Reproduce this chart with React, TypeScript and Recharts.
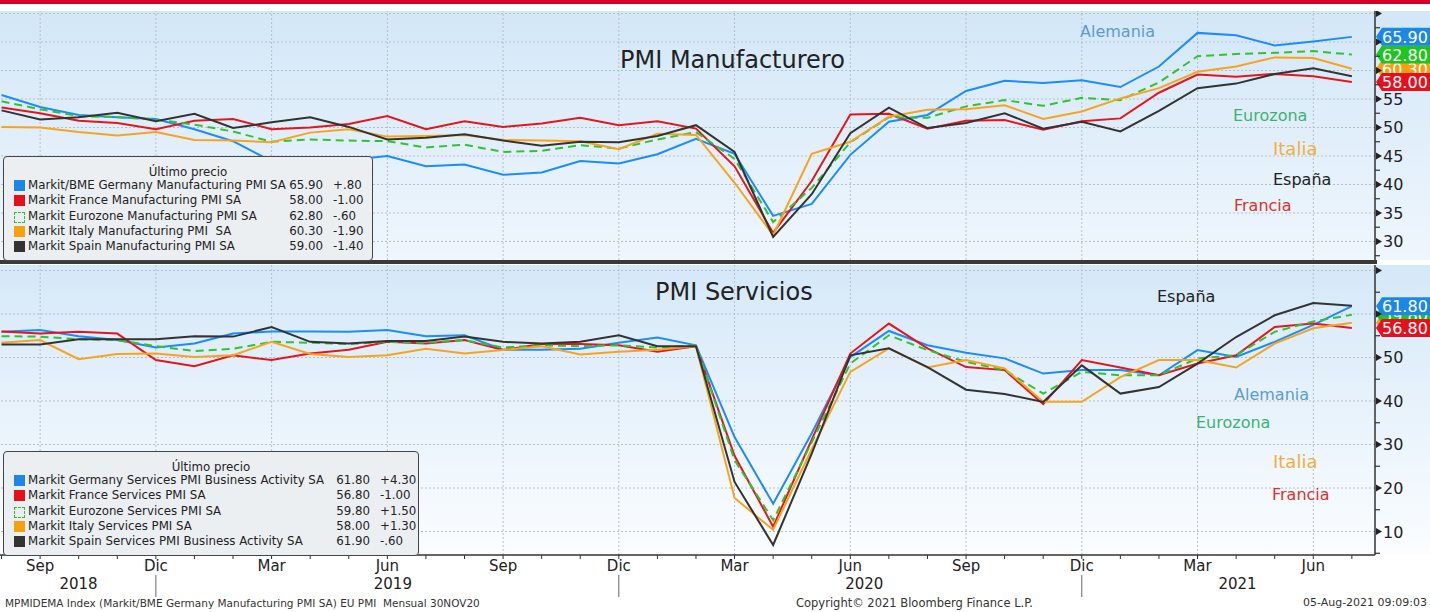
import React from 'react';
import { LineChart, Line, XAxis, YAxis, ReferenceLine, ReferenceDot } from 'recharts';

const months = ['Ago-18','Sep-18','Oct-18','Nov-18','Dic-18','Ene-19','Feb-19','Mar-19','Abr-19','May-19','Jun-19','Jul-19','Ago-19','Sep-19','Oct-19','Nov-19','Dic-19','Ene-20','Feb-20','Mar-20','Abr-20','May-20','Jun-20','Jul-20','Ago-20','Sep-20','Oct-20','Nov-20','Dic-20','Ene-21','Feb-21','Mar-21','Abr-21','May-21','Jun-21','Jul-21'];

const quarterTicks = [1, 4, 7, 10, 13, 16, 19, 22, 25, 28, 31, 34];
const quarterLabels = ['Sep', 'Dic', 'Mar', 'Jun', 'Sep', 'Dic', 'Mar', 'Jun', 'Sep', 'Dic', 'Mar', 'Jun'];
const yearTicks = [2, 10, 22, 31.5];
const yearLabels = ['2018', '2019', '2020', '2021'];

// Manufacturing PMI
const mfgDE = [55.7,53.6,52.2,51.8,51.5,49.7,47.6,44.1,44.4,44.3,45.0,43.2,43.5,41.7,42.1,44.1,43.7,45.3,48.0,45.4,34.5,36.6,45.2,51.0,52.2,56.4,58.2,57.8,58.3,57.1,60.7,66.6,66.2,64.4,65.1,65.9];
const mfgFR = [53.5,52.5,51.2,50.8,49.7,51.2,51.5,49.7,50.0,50.6,52.0,49.7,51.1,50.1,50.7,51.7,50.4,51.1,49.8,43.2,31.5,40.6,52.3,52.4,49.8,51.2,51.3,49.6,51.1,51.6,56.1,59.3,58.9,59.4,59.0,58.0];
const mfgEZ = [54.6,53.2,52.0,51.8,51.4,50.5,49.3,47.5,47.9,47.7,47.6,46.5,47.0,45.7,45.9,46.9,46.3,47.9,49.2,44.5,33.4,39.4,47.4,51.8,51.7,53.7,54.8,53.8,55.2,54.8,57.9,62.5,62.9,63.1,63.4,62.8];
const mfgIT = [50.1,50.0,49.2,48.6,49.2,47.8,47.7,47.4,49.1,49.7,48.4,48.5,48.7,47.8,47.7,47.6,46.2,48.9,48.7,40.3,31.1,45.4,47.5,51.9,53.1,53.2,53.9,51.5,52.8,55.1,56.9,59.8,60.7,62.3,62.2,60.3];
const mfgES = [53.0,51.4,51.8,52.6,51.1,52.4,49.9,50.9,51.8,50.1,47.9,48.2,48.8,47.7,46.8,47.5,47.4,48.5,50.4,45.7,30.8,38.3,49.0,53.5,49.9,50.8,52.5,49.8,51.0,49.3,52.9,56.9,57.7,59.4,60.4,59.0];

// Services PMI
const srvDE = [55.9,56.3,54.9,54.0,52.3,53.2,55.5,56.0,56.0,55.9,56.3,54.9,55.1,51.8,51.8,52.0,53.4,54.6,52.8,31.7,16.4,32.6,50.1,56.1,52.8,51.1,49.8,46.3,47.1,47.1,45.9,51.7,50.1,53.6,57.5,61.8];
const srvFR = [56.0,55.5,55.9,55.5,49.4,48.0,50.5,49.4,50.9,51.8,53.6,53.2,54.0,51.7,53.1,53.1,52.8,51.3,52.6,27.4,11.1,31.1,50.9,57.8,52.1,47.8,47.1,39.3,49.4,47.7,45.9,48.6,50.5,57.0,57.8,56.8];
const srvEZ = [54.9,54.8,54.2,54.0,52.6,51.5,52.0,53.6,53.4,53.1,53.6,53.4,54.0,52.3,52.8,52.6,52.8,52.3,52.8,26.4,12.6,30.5,48.6,55.1,51.7,49.0,47.1,41.7,46.7,45.9,45.9,49.8,50.5,55.9,58.3,59.8];
const srvIT = [53.4,54.0,49.6,50.8,50.9,50.1,50.5,53.6,50.8,50.1,50.5,52.0,50.9,51.7,52.6,50.7,51.3,51.8,52.6,17.7,10.4,28.9,46.7,52.1,47.7,49.4,47.5,39.8,39.8,45.5,49.4,49.4,47.7,53.2,56.7,58.0];
const srvES = [53.0,53.0,54.2,54.2,54.2,54.9,54.8,57.0,53.6,53.2,53.8,53.8,54.8,53.6,53.2,53.6,55.1,52.6,52.6,21.4,6.9,27.9,50.5,52.1,47.8,42.6,41.6,39.8,48.2,41.7,43.2,48.6,54.7,59.7,62.5,61.9];

// Legends
const mfgNames = ['Markit/BME Germany Manufacturing PMI SA', 'Markit France Manufacturing PMI SA', 'Markit Eurozone Manufacturing PMI SA', 'Markit Italy Manufacturing PMI  SA', 'Markit Spain Manufacturing PMI SA'];
const mfgLast = ['65.90', '58.00', '62.80', '60.30', '59.00'];
const mfgChange = ['+.80', '-1.00', '-.60', '-1.90', '-1.40'];
const srvNames = ['Markit Germany Services PMI Business Activity SA', 'Markit France Services PMI SA', 'Markit Eurozone Services PMI SA', 'Markit Italy Services PMI SA', 'Markit Spain Services PMI Business Activity SA'];
const srvLast = ['61.80', '56.80', '59.80', '58.00', '61.90'];
const srvChange = ['+4.30', '-1.00', '+1.50', '+1.30', '-.60'];

const mfgYTicks = [27.5, 30, 32.5, 35, 37.5, 40, 42.5, 45, 47.5, 50, 52.5, 55, 57.5, 60, 62.5, 65, 67.5, 70];
const mfgYLabels = [30, 35, 40, 45, 50, 55];
const mfgGrid = [30, 35, 40, 45, 50, 55, 60, 65, 70];
const srvYTicks = [5, 10, 15, 20, 25, 30, 35, 40, 45, 50, 55, 60, 65, 70];
const srvYLabels = [10, 20, 30, 40, 50];
const srvGrid = [10, 20, 30, 40, 50, 60, 70];

const keys = ['de', 'fr', 'ez', 'it', 'es'];
const colors: Record<string, string> = { de: '#1a8cff', fr: '#e8141c', ez: '#2fc42f', it: '#f7a41d', es: '#333333' };
const badgeColors: Record<string, string> = { de: '#1b87e6', fr: '#e6101c', ez: '#1fc41f', it: '#f5a00f', es: '#333333' };

const mfgData = months.map((m, i) => ({ x: i, m, de: mfgDE[i], fr: mfgFR[i], ez: mfgEZ[i], it: mfgIT[i], es: mfgES[i] }));
const srvData = months.map((m, i) => ({ x: i, m, de: srvDE[i], fr: srvFR[i], ez: srvEZ[i], it: srvIT[i], es: srvES[i] }));
const monthTicks = months.map((_, i) => i);

const xDomain: [number, number] = [-0.04, 35.6];
const FONT = '"DejaVu Sans", sans-serif';

const makeRightTick = (major: number, labels: number[]) => (props: any) => {
  const { x, y, payload } = props;
  const v = payload.value;
  const isMajor = Math.abs(v / major - Math.round(v / major)) < 1e-6;
  return (
    <g>
      {isMajor ? (
        <path d={`M${x + 1},${y - 3.5} L${x + 7},${y} L${x + 1},${y + 3.5} Z`} fill="#222" />
      ) : (
        <line x1={x} x2={x + 5} y1={y} y2={y} stroke="#333" strokeWidth={1.2} />
      )}
      {labels.includes(v) && (
        <text x={x + 8} y={y + 6} fontSize={16} fill="#222" fontFamily={FONT}>{v}</text>
      )}
    </g>
  );
};

const MonthTick = (props: any) => {
  const { x, y, payload } = props;
  const qi = quarterTicks.indexOf(payload.value);
  return (
    <g>
      <line x1={x} x2={x} y1={y} y2={y + 4} stroke="#333" strokeWidth={1} />
      {qi >= 0 && (
        <text x={x} y={y + 16} textAnchor="middle" fontSize={15} fill="#222" fontFamily={FONT}>{quarterLabels[qi]}</text>
      )}
      {qi >= 0 && quarterLabels[qi] === 'Dic' && (
        <line x1={x} x2={x} y1={y + 20} y2={y + 42} stroke="#666" strokeWidth={1} />
      )}
    </g>
  );
};

const YearTick = (props: any) => {
  const { x, y, payload } = props;
  const k = yearTicks.indexOf(payload.value);
  return (
    <text x={x} y={y + 14} textAnchor="middle" fontSize={15} fill="#222" fontFamily={FONT}>{yearLabels[k]}</text>
  );
};

const badgeShape = (color: string, text: string) => (props: any) => {
  const { cx, cy } = props;
  const x0 = cx + 1;
  return (
    <g>
      <path d={`M${x0},${cy} L${x0 + 6},${cy - 9} L${x0 + 56},${cy - 9} L${x0 + 56},${cy + 9} L${x0 + 6},${cy + 9} Z`} fill={color} />
      <text x={x0 + 6} y={cy + 6} fontSize={16} fill="#fff" fontFamily={FONT}>{text}</text>
    </g>
  );
};

const gridProps = { stroke: '#b6c0ca', strokeDasharray: '2 2', strokeWidth: 1 };

const LegendBox = ({ left, top, width, height, names, last, change, valueRight, changeLeft }: any) => (
  <div style={{ position: 'absolute', left, top, width, height, background: '#eceff2', border: '1px solid #444', borderRadius: 4, boxSizing: 'border-box', fontFamily: FONT, fontSize: 11.8, color: '#222' }}>
    <div style={{ position: 'absolute', top: 8, left: 0, width: '100%', textAlign: 'center', lineHeight: '14px' }}>Último precio</div>
    {names.map((n: string, k: number) => (
      <div key={n} style={{ position: 'absolute', top: 21 + k * 15.3, left: 0, width: '100%', height: 15.3, lineHeight: '15.3px', whiteSpace: 'pre' }}>
        {k === 2 ? (
          <div style={{ position: 'absolute', left: 10, top: 3, width: 9, height: 9, border: '1px dashed ' + colors[keys[k]] }} />
        ) : (
          <div style={{ position: 'absolute', left: 10, top: 2, width: 11, height: 11, background: badgeColors[keys[k]] }} />
        )}
        <span style={{ position: 'absolute', left: 24 }}>{n}</span>
        <span style={{ position: 'absolute', left: valueRight - 50, width: 50, textAlign: 'right' }}>{last[k]}</span>
        <span style={{ position: 'absolute', left: changeLeft }}>{change[k]}</span>
      </div>
    ))}
  </div>
);

const Label = ({ text, left, cy, color, size = 16, family = FONT }: any) => (
  <div style={{ position: 'absolute', left, top: cy - 12, lineHeight: '24px', fontSize: size, color, fontFamily: family, whiteSpace: 'nowrap' }}>{text}</div>
);

const badgeOrder = ['it', 'ez', 'de', 'fr'];

export default function App() {
  const mfgLastVals: Record<string, number> = { de: mfgDE[35], fr: mfgFR[35], ez: mfgEZ[35], it: mfgIT[35], es: mfgES[35] };
  const srvLastVals: Record<string, number> = { de: srvDE[35], fr: srvFR[35], ez: srvEZ[35], it: srvIT[35], es: srvES[35] };
  return (
    <div style={{ position: 'relative', width: 1430, height: 612, background: '#fff', overflow: 'hidden', fontFamily: FONT }}>
      <style>{'body{margin:0}'}</style>
      <div style={{ position: 'absolute', left: 0, top: 0, width: 1430, height: 4, background: '#d7002b' }} />
      <div style={{ position: 'absolute', left: 0, top: 11, width: 1430, height: 249, background: 'linear-gradient(#d3e7f7, #eff6fd)' }} />
      <div style={{ position: 'absolute', left: 0, top: 265, width: 1430, height: 290, background: 'linear-gradient(#d5e8f8, #fbfdff)' }} />

      <div style={{ position: 'absolute', left: 0, top: 11 }}>
        <LineChart width={1430} height={249} data={mfgData} margin={{ top: 0, right: 0, bottom: 0, left: 0 }}>
          <XAxis dataKey="x" type="number" domain={xDomain} allowDataOverflow hide />
          <YAxis orientation="right" type="number" domain={[26.75, 70.44]} allowDataOverflow ticks={mfgYTicks} interval={0} width={55} tickSize={0} tickMargin={0} tickLine={false} axisLine={{ stroke: '#333', strokeWidth: 1.5 }} tick={makeRightTick(5, mfgYLabels)} />
          {quarterTicks.map((q) => <ReferenceLine key={'v' + q} x={q} {...gridProps} />)}
          {mfgGrid.map((v) => <ReferenceLine key={'h' + v} y={v} {...gridProps} />)}
          {keys.map((k) => (
            <Line key={k} dataKey={k} type="linear" stroke={colors[k]} strokeWidth={2} strokeDasharray={k === 'ez' ? '8 5' : undefined} dot={false} isAnimationActive={false} />
          ))}
          {badgeOrder.map((k) => (
            <ReferenceDot key={'b' + k} x={xDomain[1]} y={mfgLastVals[k]} ifOverflow="visible" shape={badgeShape(badgeColors[k], mfgLastVals[k].toFixed(2))} />
          ))}
        </LineChart>
      </div>

      <div style={{ position: 'absolute', left: 0, top: 265 }}>
        <LineChart width={1430} height={332} data={srvData} margin={{ top: 0, right: 0, bottom: 0, left: 0 }}>
          <XAxis dataKey="x" type="number" domain={xDomain} allowDataOverflow ticks={monthTicks} interval={0} height={20} tickSize={0} tickMargin={0} axisLine={{ stroke: '#333', strokeWidth: 1.5 }} tick={MonthTick} />
          <XAxis xAxisId="yr" type="number" domain={xDomain} allowDataOverflow ticks={yearTicks} interval={0} height={22} tickSize={0} tickMargin={0} axisLine={false} tickLine={false} tick={YearTick} />
          <YAxis orientation="right" type="number" domain={[4.6, 71.26]} allowDataOverflow ticks={srvYTicks} interval={0} width={55} tickSize={0} tickMargin={0} tickLine={false} axisLine={{ stroke: '#333', strokeWidth: 1.5 }} tick={makeRightTick(10, srvYLabels)} />
          {quarterTicks.map((q) => <ReferenceLine key={'v' + q} x={q} {...gridProps} />)}
          {srvGrid.map((v) => <ReferenceLine key={'h' + v} y={v} {...gridProps} />)}
          {keys.map((k) => (
            <Line key={k} dataKey={k} type="linear" stroke={colors[k]} strokeWidth={2} strokeDasharray={k === 'ez' ? '8 5' : undefined} dot={false} isAnimationActive={false} />
          ))}
          {badgeOrder.map((k) => (
            <ReferenceDot key={'b' + k} x={xDomain[1]} y={srvLastVals[k]} ifOverflow="visible" shape={badgeShape(badgeColors[k], srvLastVals[k].toFixed(2))} />
          ))}
        </LineChart>
      </div>

      <div style={{ position: 'absolute', left: 0, top: 260, width: 1377, height: 4, background: '#3a3a3a' }} />

      <Label text="PMI Manufacturero" left={620} cy={60} color="#222" size={24} />
      <Label text="Alemania" left={1080} cy={32} color="#5b9bd5" />
      <Label text="Eurozona" left={1233} cy={116} color="#3cb371" />
      <Label text="Italia" left={1273} cy={149} color="#f0b040" size={18} />
      <Label text="España" left={1273} cy={180} color="#222" />
      <Label text="Francia" left={1234} cy={206} color="#e0302a" />

      <Label text="PMI Servicios" left={655} cy={292} color="#222" size={24} />
      <Label text="España" left={1157} cy={297} color="#222" />
      <Label text="Alemania" left={1234} cy={395} color="#5b9bd5" />
      <Label text="Eurozona" left={1196} cy={423} color="#3cb371" />
      <Label text="Italia" left={1273} cy={462} color="#f0b040" size={18} />
      <Label text="Francia" left={1272} cy={495} color="#e0302a" />

      <LegendBox left={3} top={156} width={370} height={105} names={mfgNames} last={mfgLast} change={mfgChange} valueRight={319} changeLeft={329} />
      <LegendBox left={3} top={451} width={416} height={105} names={srvNames} last={srvLast} change={srvChange} valueRight={366} changeLeft={376} />

      <div style={{ position: 'absolute', left: 5, top: 596, fontSize: 10.5, lineHeight: '14px', color: '#333', whiteSpace: 'pre' }}>MPMIDEMA Index (Markit/BME Germany Manufacturing PMI SA) EU PMI  Mensual 30NOV20</div>
      <div style={{ position: 'absolute', left: 796, top: 596, fontSize: 11.5, lineHeight: '14px', color: '#333', whiteSpace: 'pre' }}>Copyright© 2021 Bloomberg Finance L.P.</div>
      <div style={{ position: 'absolute', right: 3, top: 596, fontSize: 11, lineHeight: '14px', color: '#333', whiteSpace: 'pre' }}>05-Aug-2021 09:09:03</div>
    </div>
  );
}
